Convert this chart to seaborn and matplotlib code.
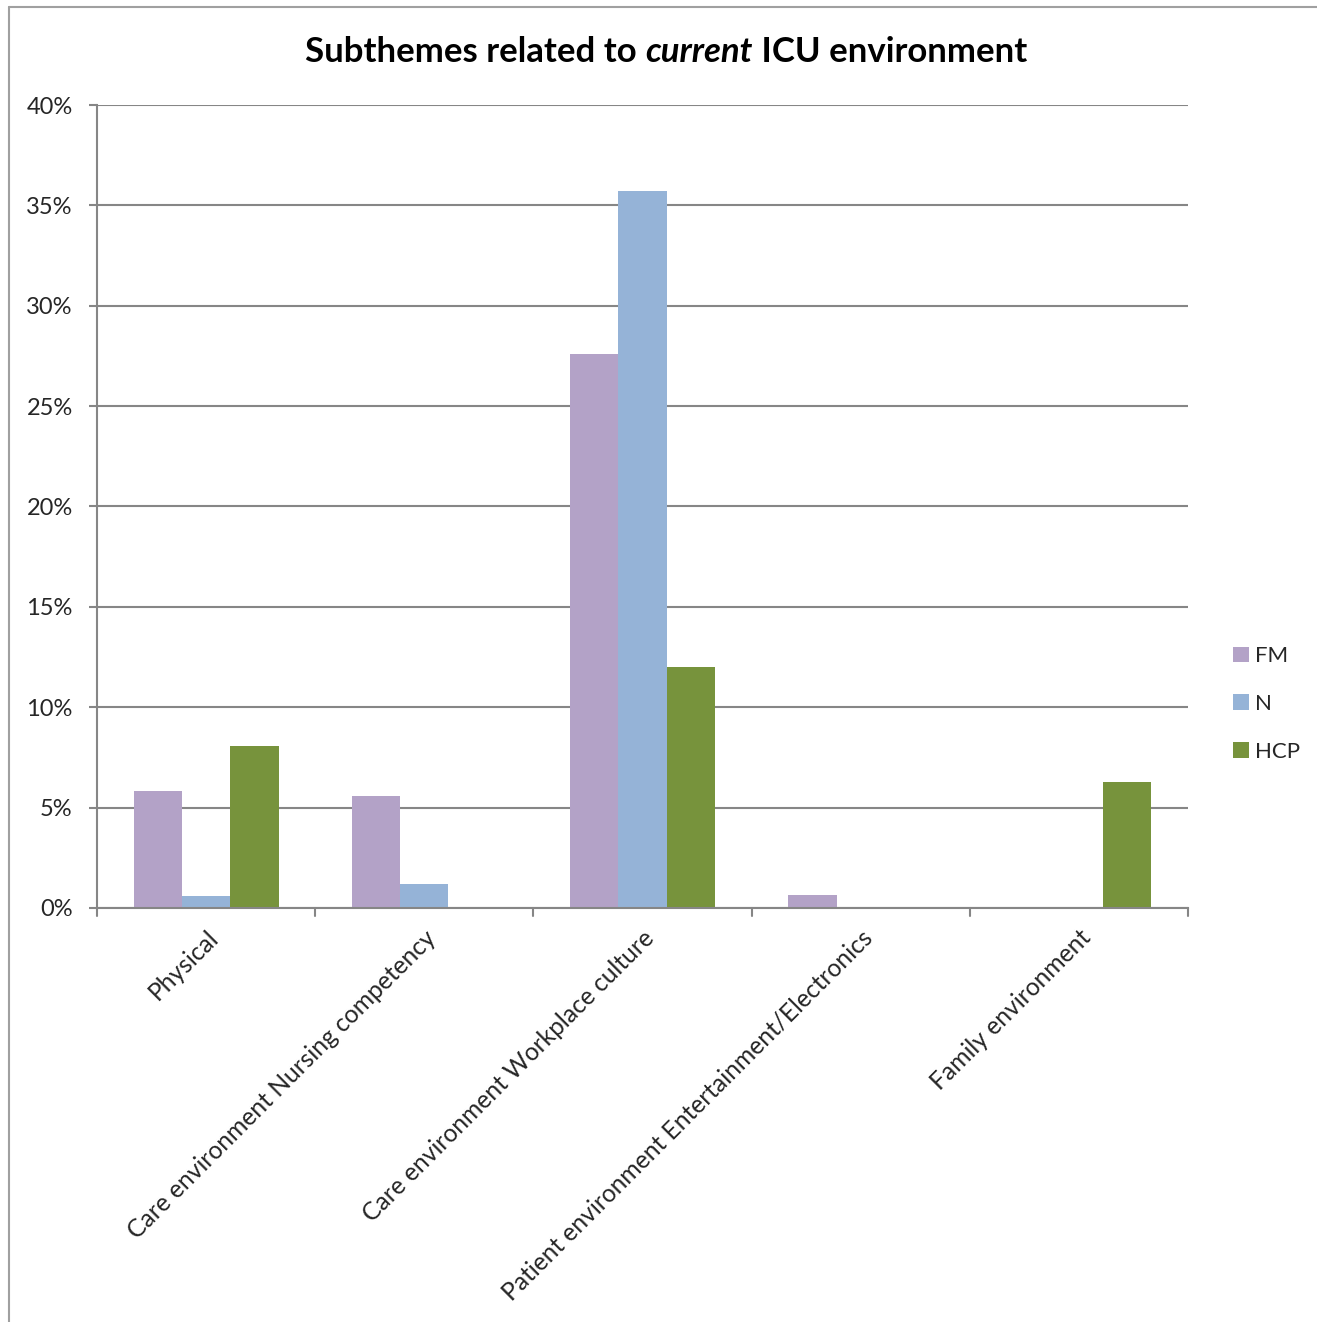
import matplotlib
matplotlib.use("Agg")
import matplotlib.pyplot as plt
import seaborn as sns
import pandas as pd
from matplotlib.lines import Line2D
from matplotlib.offsetbox import TextArea, HPacker, AnchoredOffsetbox

categories = ["Physical", "Care environment Nursing competency", "Care environment Workplace culture",
              "Patient environment Entertainment/Electronics", "Family environment"]
fm = [5.85, 5.6, 27.6, 0.65, 0.0]
n = [0.6, 1.2, 35.7, 0.0, 0.0]
hcp = [8.05, 0.0, 12.0, 0.0, 6.3]
series = ["FM", "N", "HCP"]
colors = ["#B3A2C7", "#95B3D7", "#77933C"]
yticks = [0, 5, 10, 15, 20, 25, 30, 35, 40]
ytick_labels = ["0%", "5%", "10%", "15%", "20%", "25%", "30%", "35%", "40%"]

rows = []
for s, vals in zip(series, [fm, n, hcp]):
    for c, v in zip(categories, vals):
        rows.append({"category": c, "series": s, "value": v})
df = pd.DataFrame(rows)

sns.set_style("white")
plt.rcParams['font.family'] = ['Lato', 'DejaVu Sans']

fig = plt.figure(figsize=(13.17, 13.22), dpi=100)
ax = fig.add_axes([97/1317, 1-908/1322, (1188-97)/1317, (908-105)/1322])

sns.barplot(data=df, x="category", y="value", hue="series", palette=colors,
            width=0.665, ax=ax, edgecolor="none", linewidth=0, legend=True, saturation=1)

ax.set_ylim(0, 40)
ax.set_xlim(-0.5, 4.5)
ax.set_yticks(yticks)
ax.set_yticklabels(ytick_labels, fontsize=17)
ax.grid(axis="y", color="#868686", linewidth=1.5, zorder=0)
ax.set_axisbelow(True)
for sp in ["top", "right"]:
    ax.spines[sp].set_visible(False)
for sp in ["left", "bottom"]:
    ax.spines[sp].set_color("#868686")
    ax.spines[sp].set_linewidth(1.5)
ax.set_xlabel("")
ax.set_ylabel("")

# category labels
ax.set_xticks(range(len(categories)))
ax.set_xticklabels(categories, rotation=45, ha="right", va="top",
                   rotation_mode="anchor", fontsize=17.7)
ax.tick_params(axis="x", length=0, pad=13)
ax.tick_params(axis="y", length=6, width=1.5, color="#868686", pad=11.5, left=True)
# boundary tick marks
for b in [i - 0.5 for i in range(len(categories) + 1)]:
    ax.plot([b, b], [0, -0.4], color="#868686", lw=1.5, clip_on=False, transform=ax.transData)

# legend
handles, labels = ax.get_legend_handles_labels()
ax.legend_.remove()
fig.legend(handles, labels, loc="center left", bbox_to_anchor=(1213/1317, 1-704/1322),
           frameon=False, fontsize=16, handlelength=0.7, handleheight=0.7,
           labelspacing=1.25, handletextpad=0.3)

# title with italic word
tp = dict(fontsize=25, fontweight="bold", color="black")
t1 = TextArea("Subthemes related to ", textprops=tp)
t2 = TextArea("current", textprops=dict(tp, style="italic"))
t3 = TextArea(" ICU environment", textprops=tp)
box = HPacker(children=[t1, t2, t3], align="baseline", pad=0, sep=0)
anch = AnchoredOffsetbox(loc="center", child=box, frameon=False,
                         bbox_to_anchor=(666/1317, 1-52/1322), bbox_transform=fig.transFigure, pad=0)
fig.add_artist(anch)

# outer frame lines
fig.add_artist(Line2D([9/1317, 9/1317], [0, 1-7/1322], color="#A0A0A0", lw=1.5, transform=fig.transFigure))
fig.add_artist(Line2D([9/1317, 1], [1-7/1322, 1-7/1322], color="#A0A0A0", lw=1.5, transform=fig.transFigure))

fig.savefig("out.png", dpi=100)
